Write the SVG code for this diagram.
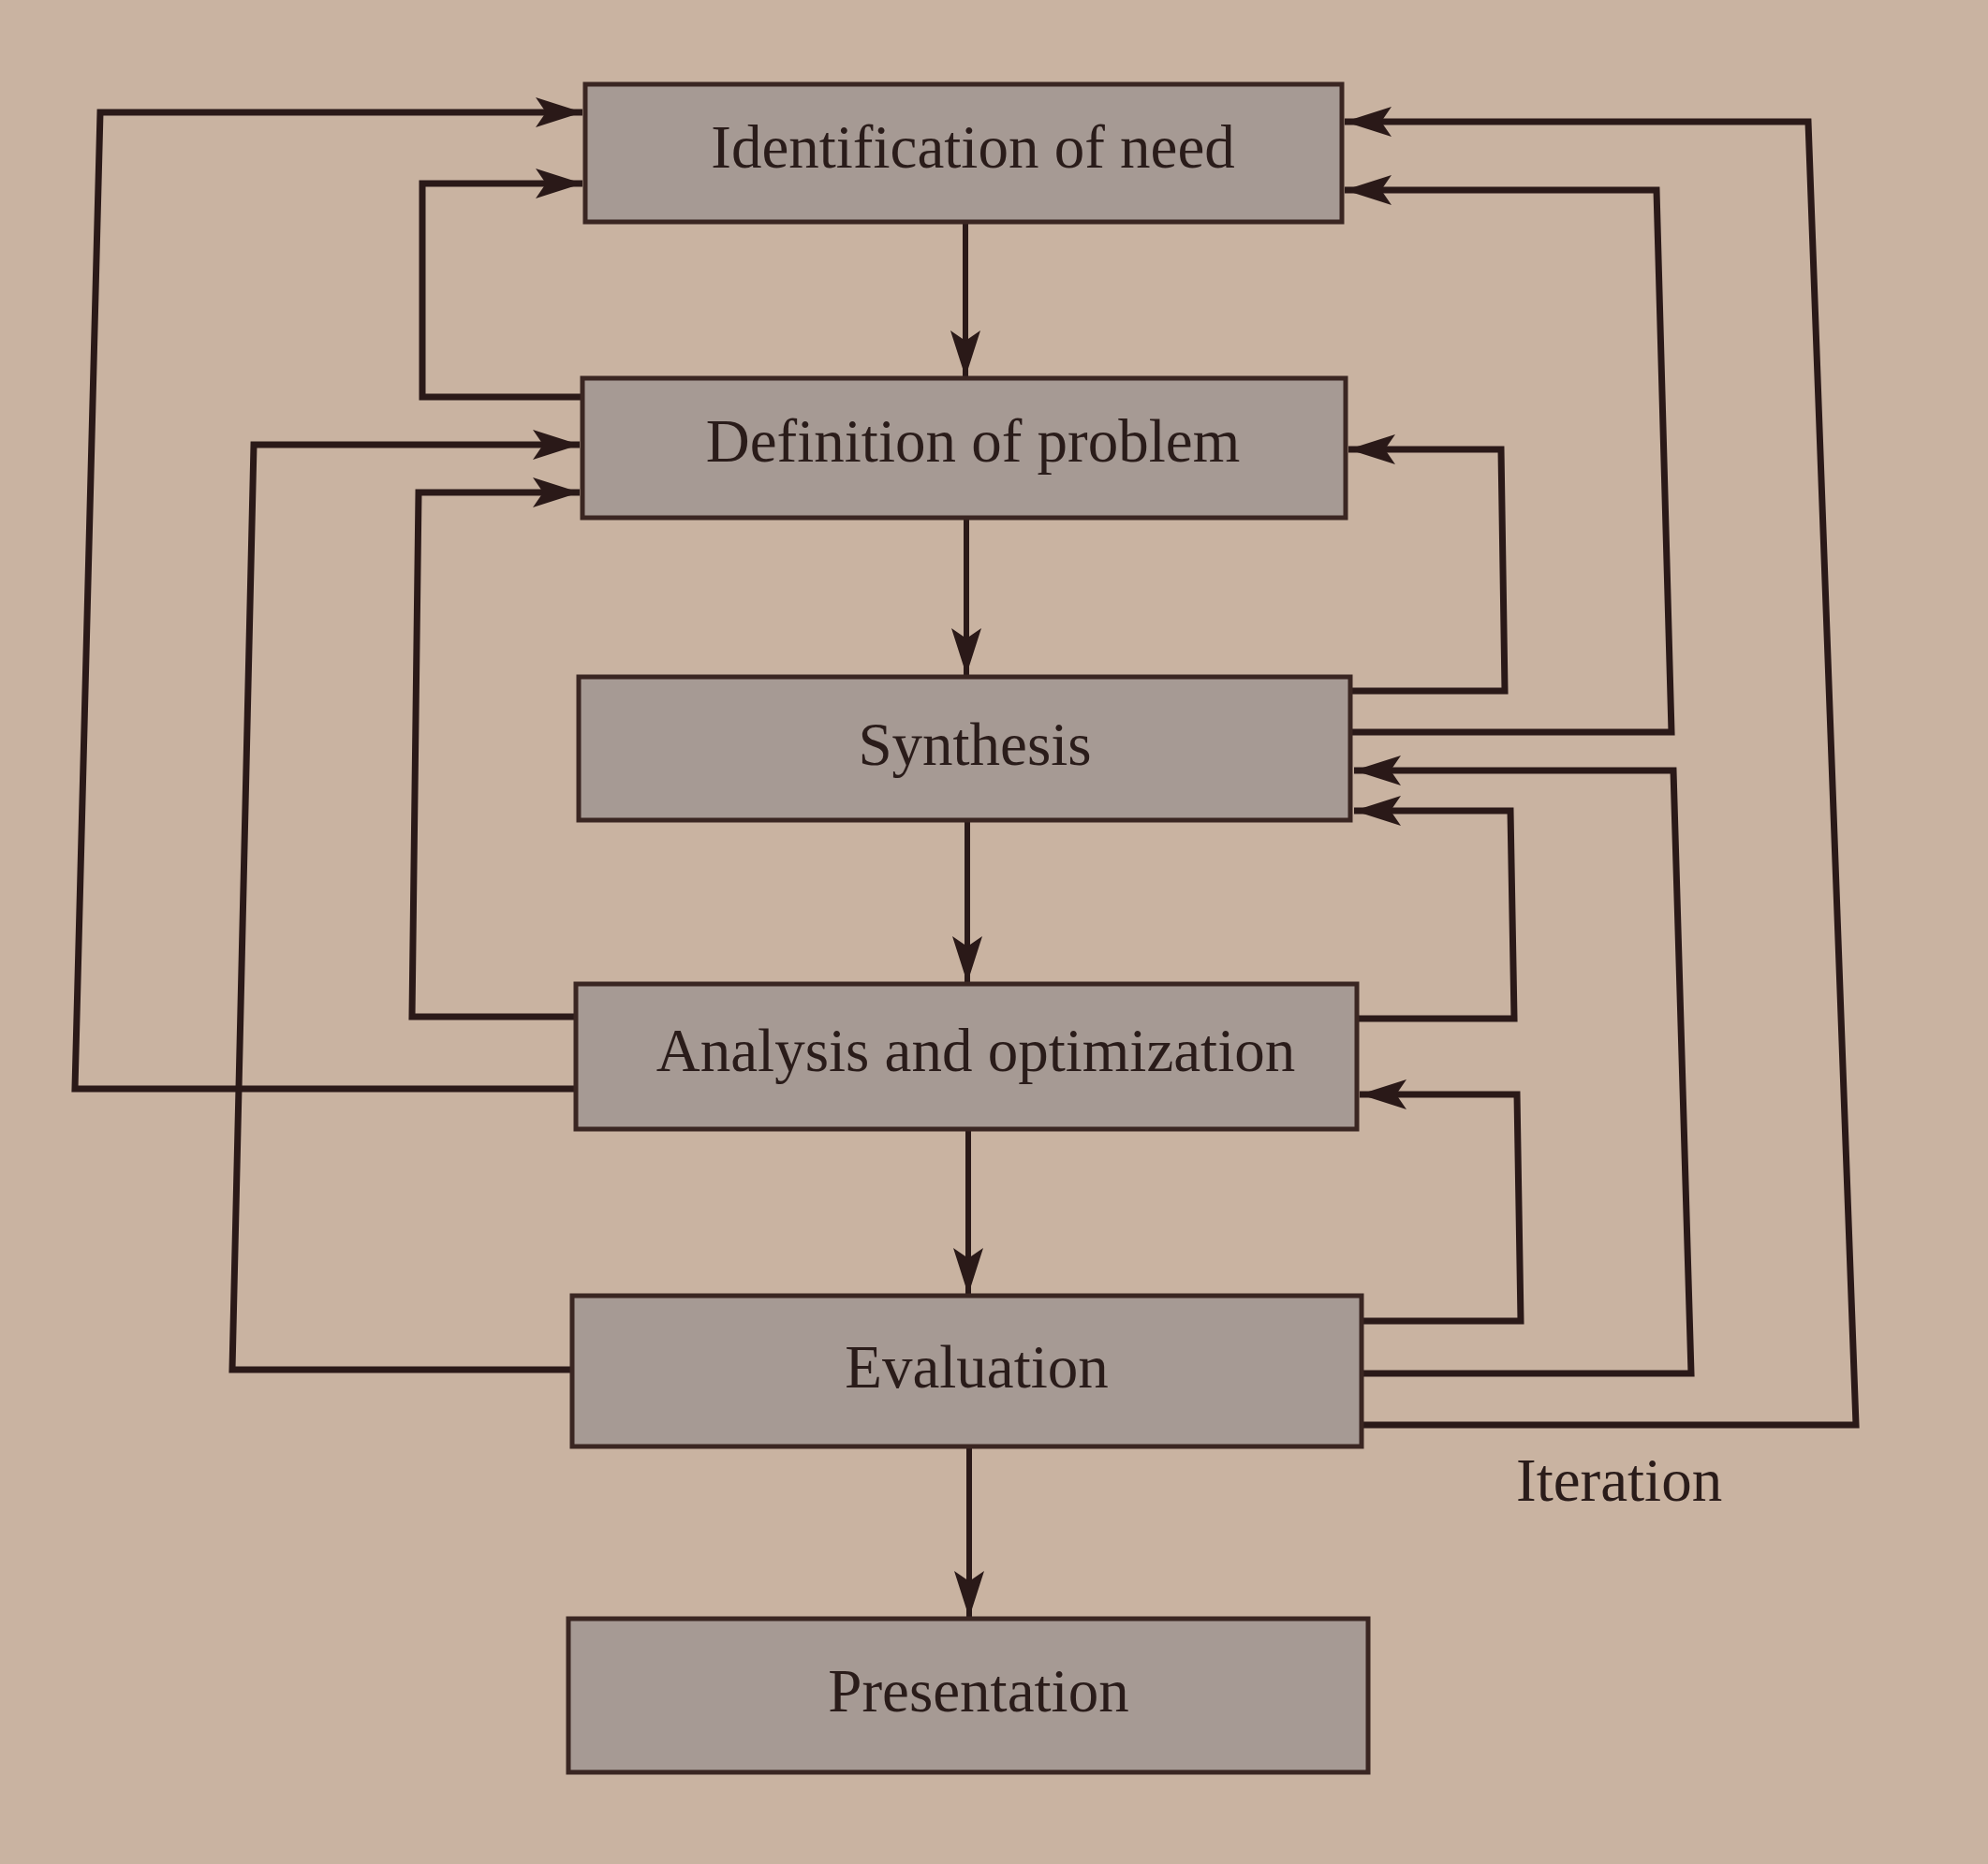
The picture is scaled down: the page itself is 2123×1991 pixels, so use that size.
<svg xmlns="http://www.w3.org/2000/svg" width="2123" height="1991" viewBox="0 0 2123 1991">
  <defs>
    <marker id="arr" viewBox="-52 -17 54 34" refX="0" refY="0" markerWidth="54" markerHeight="34" markerUnits="userSpaceOnUse" orient="auto">
      <path d="M0,0 L-50,-16 L-39,0 L-50,16 Z" fill="#2a1918"/>
    </marker>
  </defs>
  <style>
    .bg { fill: #c9b3a1; }
    .box { fill: #a69a94; stroke: #3a2622; stroke-width: 5; }
    .lbl { font-family: "Liberation Serif", "Times New Roman", serif; font-size: 65px; fill: #2a1c1a; text-anchor: middle; }
    .note { font-family: "Liberation Serif", "Times New Roman", serif; font-size: 65px; fill: #2a1c1a; }
    .conn { fill: none; stroke: #2a1918; stroke-width: 7; stroke-linejoin: miter; }
    .main { fill: none; stroke: #2a1918; stroke-width: 6; marker-end: url(#arr); }
  </style>
  <rect class="bg" x="0" y="0" width="2123" height="1991"/>

  <g id="connectors">
    <!-- main flow -->
    <path class="main" d="M1031,238 V403"/>
    <path class="main" d="M1032,554 V721"/>
    <path class="main" d="M1033,878 V1050"/>
    <path class="main" d="M1034,1208 V1383"/>
    <path class="main" d="M1035,1547 V1728"/>
    <!-- left side feedback -->
    <path class="conn" marker-end="url(#arr)" d="M615,1163 H80 L107,120 H622"/>
    <path class="conn" marker-end="url(#arr)" d="M622,424 H451 V196 H622"/>
    <path class="conn" marker-end="url(#arr)" d="M611,1463 H248 L271,475 H619"/>
    <path class="conn" marker-end="url(#arr)" d="M615,1086 H440 L447,526 H619"/>
    <!-- right side feedback -->
    <path class="conn" marker-end="url(#arr)" d="M1442,738 H1607 L1603,480 H1440"/>
    <path class="conn" marker-end="url(#arr)" d="M1443,782 H1785 L1769,203 H1436"/>
    <path class="conn" marker-end="url(#arr)" d="M1454,1522 H1982 L1931,130 H1436"/>
    <path class="conn" marker-end="url(#arr)" d="M1454,1467 H1806 L1787,823 H1446"/>
    <path class="conn" marker-end="url(#arr)" d="M1449,1088 H1617 L1613,866 H1446"/>
    <path class="conn" marker-end="url(#arr)" d="M1454,1411 H1624 L1620,1169 H1452"/>
  </g>

  <g id="identification">
    <rect class="box" x="625" y="90" width="808" height="147"/>
    <text class="lbl" x="1039" y="179">Identification of need</text>
  </g>
  <g id="definition">
    <rect class="box" x="622" y="404" width="815" height="149"/>
    <text class="lbl" x="1039" y="493">Definition of problem</text>
  </g>
  <g id="synthesis">
    <rect class="box" x="618" y="723" width="824" height="153"/>
    <text class="lbl" x="1041" y="817">Synthesis</text>
  </g>
  <g id="analysis">
    <rect class="box" x="615" y="1051" width="834" height="155"/>
    <text class="lbl" x="1042" y="1144">Analysis and optimization</text>
  </g>
  <g id="evaluation">
    <rect class="box" x="611" y="1384" width="843" height="161"/>
    <text class="lbl" x="1043" y="1482">Evaluation</text>
  </g>
  <g id="presentation">
    <rect class="box" x="607" y="1729" width="854" height="164"/>
    <text class="lbl" x="1045" y="1828">Presentation</text>
  </g>
  <g id="iteration-label">
    <text class="note" x="1619" y="1603">Iteration</text>
  </g>
</svg>
